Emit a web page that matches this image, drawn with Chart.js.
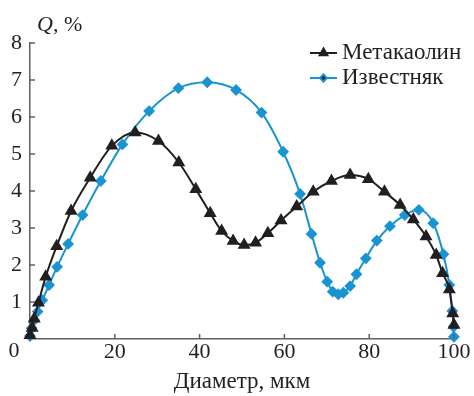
<!DOCTYPE html>
<html>
<head>
<meta charset="utf-8">
<script src="https://cdn.jsdelivr.net/npm/chart.js@4.4.0/dist/chart.umd.min.js"></script>
<style>
  html, body { margin: 0; padding: 0; background: #fff; }
  #wrap { width: 474px; height: 396px; }
</style>
</head>
<body>
<div id="wrap"><canvas id="psdChart"></canvas></div>
<script>
const metakaolinX = [0, 0.5, 1, 2, 3.7, 6.3, 9.7, 14.2, 19.3, 24.8, 30.3, 35.1, 39.1, 42.5, 45.2, 47.9, 50.5, 53.2, 56.1, 59.2, 62.9, 66.8, 71.1, 75.5, 79.8, 83.6, 87.3, 90.4, 93.4, 95.8, 97.3, 98.9, 99.7, 100];
const metakaolinY = [0.1, 0.3, 0.55, 0.98, 1.68, 2.51, 3.46, 4.36, 5.22, 5.58, 5.35, 4.77, 4.05, 3.4, 2.92, 2.65, 2.54, 2.6, 2.86, 3.2, 3.58, 3.98, 4.27, 4.43, 4.32, 3.98, 3.62, 3.23, 2.77, 2.27, 1.78, 1.34, 0.69, 0.38];

const limestoneX = [0, 0.4, 1.0, 1.8, 2.9, 4.5, 6.4, 9.0, 12.4, 16.7, 21.8, 28.1, 35.0, 41.8, 48.6, 54.6, 59.7, 63.7, 66.4, 68.4, 70.1, 71.4, 72.7, 73.9, 75.5, 77.0, 79.2, 81.8, 84.9, 88.4, 91.7, 95.1, 97.5, 98.9, 99.6, 99.9, 100];
const limestoneY = [0.08, 0.29, 0.51, 0.74, 1.05, 1.46, 1.95, 2.57, 3.35, 4.27, 5.26, 6.16, 6.78, 6.94, 6.73, 6.12, 5.06, 3.92, 2.84, 2.06, 1.55, 1.28, 1.21, 1.25, 1.43, 1.75, 2.18, 2.66, 3.05, 3.35, 3.49, 3.13, 2.29, 1.46, 0.76, 0.33, 0.06];

const seriesNames = ["Метакаолин", "Известняк"];
const xTicks = [0, 20, 40, 60, 80, 100];
const yTicks = [0, 1, 2, 3, 4, 5, 6, 7, 8];

const colors = {
  black: "#231f20",
  blue: "#1994d3",
  axis: "#606062",
};
const serif = "'Liberation Serif', 'DejaVu Serif', serif";

const toPoints = (xs, ys) => xs.map((x, i) => ({ x: x, y: ys[i] }));

// inner tick marks, the shared "0", the Q label and the legend
const decorations = {
  id: "decorations",
  afterDraw(chart) {
    const ctx = chart.ctx;
    const area = chart.chartArea;
    const xs = chart.scales.x;
    const ys = chart.scales.y;
    ctx.save();
    ctx.strokeStyle = colors.axis;
    ctx.lineWidth = 1.5;
    xTicks.forEach((v) => {
      if (v === 0) return;
      const px = xs.getPixelForValue(v);
      ctx.beginPath();
      ctx.moveTo(px, area.bottom);
      ctx.lineTo(px, area.bottom - 5);
      ctx.stroke();
    });
    yTicks.forEach((v) => {
      if (v === 0) return;
      const py = ys.getPixelForValue(v);
      ctx.beginPath();
      ctx.moveTo(area.left, py);
      ctx.lineTo(area.left + 5, py);
      ctx.stroke();
    });

    ctx.fillStyle = "#231f20";
    ctx.font = "22px " + serif;
    ctx.textAlign = "center";
    ctx.textBaseline = "middle";
    ctx.fillText("0", area.left - 16, area.bottom + 12);

    ctx.textAlign = "left";
    ctx.textBaseline = "alphabetic";
    ctx.font = "italic 22px " + serif;
    ctx.fillText("Q", area.left + 7, area.top - 12);
    const qw = ctx.measureText("Q").width;
    ctx.font = "22px " + serif;
    ctx.fillText(", %", area.left + 7 + qw, area.top - 12);

    const legendRows = [
      { name: seriesNames[0], color: colors.black, y: 53, ds: chart.data.datasets[0] },
      { name: seriesNames[1], color: colors.blue, y: 78, ds: chart.data.datasets[1] },
    ];
    legendRows.forEach((row) => {
      ctx.strokeStyle = row.color;
      ctx.lineWidth = 2;
      ctx.beginPath();
      ctx.moveTo(310, row.y);
      ctx.lineTo(337, row.y);
      ctx.stroke();
      Chart.helpers.drawPoint(ctx, {
        pointStyle: row.ds.pointStyle,
        radius: row.ds.pointRadius - 1,
        borderWidth: 1,
      }, 323.5, row.y);
      ctx.fillStyle = "#231f20";
      ctx.font = "23px " + serif;
      ctx.textBaseline = "middle";
      ctx.fillText(row.name, 342, row.y);
    });
    ctx.restore();
  },
};

const psdCtx = document.getElementById("psdChart");
if (psdCtx) {
  new Chart(psdCtx, {
    type: "scatter",
    data: {
      datasets: [
        {
          label: seriesNames[0],
          data: toPoints(metakaolinX, metakaolinY),
          showLine: true,
          borderColor: colors.black,
          backgroundColor: colors.black,
          pointBackgroundColor: colors.black,
          pointBorderColor: colors.black,
          pointStyle: "triangle",
          pointRadius: 5.5,
          borderWidth: 2,
          cubicInterpolationMode: "monotone",
          clip: false,
        },
        {
          label: seriesNames[1],
          data: toPoints(limestoneX, limestoneY),
          showLine: true,
          borderColor: colors.blue,
          backgroundColor: colors.blue,
          pointBackgroundColor: colors.blue,
          pointBorderColor: colors.blue,
          pointStyle: "rectRot",
          pointRadius: 4.5,
          borderWidth: 2,
          cubicInterpolationMode: "monotone",
          clip: false,
        },
      ],
    },
    options: {
      responsive: true,
      maintainAspectRatio: false,
      animation: false,
      layout: {
        padding: { top: 43, right: 20, left: 0, bottom: 0 },
      },
      plugins: {
        legend: { display: false },
        tooltip: { enabled: false },
      },
      scales: {
        x: {
          type: "linear",
          min: 0,
          max: 100,
          afterBuildTicks: (scale) => {
            scale.ticks = xTicks.map((v) => ({ value: v }));
          },
          afterFit: (scale) => {
            scale.height = 57;
          },
          ticks: {
            color: "#231f20",
            font: { family: serif, size: 22 },
            padding: 0,
            maxRotation: 0,
            callback: (v) => (v === 0 ? "" : v),
          },
          grid: { display: true, drawOnChartArea: false, drawTicks: false },
          border: { color: colors.axis, width: 1.5 },
          title: {
            display: true,
            text: "Диаметр, мкм",
            color: "#231f20",
            font: { family: serif, size: 23 },
            padding: { top: 0, bottom: 0 },
          },
        },
        y: {
          type: "linear",
          min: 0,
          max: 8,
          afterBuildTicks: (scale) => {
            scale.ticks = yTicks.map((v) => ({ value: v }));
          },
          afterFit: (scale) => {
            scale.width = 30;
          },
          ticks: {
            color: "#231f20",
            font: { family: serif, size: 22 },
            padding: 8,
            callback: (v) => (v === 0 ? "" : v),
          },
          grid: { display: true, drawOnChartArea: false, drawTicks: false },
          border: { color: colors.axis, width: 1.5 },
        },
      },
    },
    plugins: [decorations],
  });
}
</script>
</body>
</html>
